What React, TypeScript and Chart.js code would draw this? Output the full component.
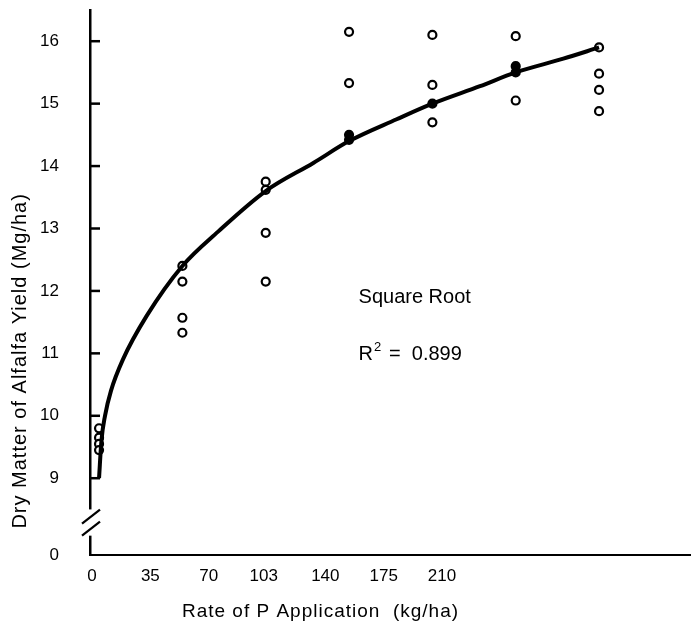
import React, { useEffect, useRef } from "react";
import { Chart, registerables } from "chart.js";

Chart.register(...registerables);

// ---- data ----
const rates = [0, 35, 70, 105, 140, 175, 210];
const yieldAt0 = [9.8, 9.65, 9.55, 9.45];
const yieldAt35 = [12.4, 12.15, 11.57, 11.33];
const yieldAt70 = [13.75, 13.62, 12.93, 12.15];
const yieldAt105 = [16.15, 15.33, 14.5, 14.42];
const yieldAt140 = [16.1, 15.3, 15.0, 14.7];
const yieldAt175 = [16.08, 15.6, 15.5, 15.05];
const yieldAt210 = [15.9, 15.48, 15.22, 14.88];
const yieldsByRate = [yieldAt0, yieldAt35, yieldAt70, yieldAt105, yieldAt140, yieldAt175, yieldAt210];

// fitted square-root curve
const curveX = [0, 1, 2.5, 5, 10, 20, 35, 50, 70, 90, 105, 125, 140, 160, 175, 195, 210];
const curveY = [9.0, 9.6, 10.0, 10.4, 10.9, 11.6, 12.4, 12.95, 13.6, 14.05, 14.4, 14.75, 15.0, 15.28, 15.5, 15.72, 15.9];

// axis tick labels
const xTickValues = [0, 35, 70, 103, 140, 175, 210];
const xTickLabels = ["0", "35", "70", "103", "140", "175", "210"];
const yTickValues = [9, 10, 11, 12, 13, 14, 15, 16];
const yBreakLabel = "0";

const xTitle = "Rate of P Application  (kg/ha)";
const yTitle = "Dry Matter of Alfalfa Yield (Mg/ha)";
const modelName = "Square Root";
const r2Value = "0.899";

const FONT = "'Liberation Sans', Arial, Helvetica, sans-serif";
const Y_MIN = 7.77;
const Y_MAX = 16.5;

function curveAt(x: number): number {
  for (let i = 1; i < curveX.length; i++) {
    if (x <= curveX[i]) {
      const t = (x - curveX[i - 1]) / (curveX[i] - curveX[i - 1]);
      return curveY[i - 1] + t * (curveY[i] - curveY[i - 1]);
    }
  }
  return curveY[curveY.length - 1];
}

const decorPlugin = {
  id: "decor",
  afterDraw(chart: any) {
    const ctx = chart.ctx as CanvasRenderingContext2D;
    const ys = chart.scales.y;
    const xs = chart.scales.x;
    const area = chart.chartArea;
    ctx.save();
    ctx.strokeStyle = "#000";
    ctx.fillStyle = "#000";
    // inward tick marks on the y axis
    ctx.lineWidth = 2.5;
    yTickValues.forEach((v) => {
      const py = ys.getPixelForValue(v);
      ctx.beginPath();
      ctx.moveTo(area.left, py);
      ctx.lineTo(area.left + 10, py);
      ctx.stroke();
    });
    // axis break
    const bTop = ys.getPixelForValue(8.5);
    const bBot = ys.getPixelForValue(8.08);
    ctx.fillStyle = "#fff";
    ctx.fillRect(area.left - 3, bTop, 6, bBot - bTop);
    ctx.fillStyle = "#000";
    ctx.lineWidth = 2.2;
    const bc = (bTop + bBot) / 2;
    [-6, 6].forEach((off) => {
      ctx.beginPath();
      ctx.moveTo(area.left - 8, bc + off + 7);
      ctx.lineTo(area.left + 10, bc + off - 7);
      ctx.stroke();
    });
    // titles
    (ctx as any).letterSpacing = "1px";
    ctx.font = `19px ${FONT}`;
    ctx.textAlign = "center";
    ctx.textBaseline = "middle";
    ctx.fillText(xTitle, xs.getPixelForValue(93), area.bottom + 57);
    ctx.save();
    ctx.font = `20px ${FONT}`;
    ctx.translate(20, ys.getPixelForValue(10.88));
    ctx.rotate(-Math.PI / 2);
    ctx.fillText(yTitle, 0, 0);
    ctx.restore();
    (ctx as any).letterSpacing = "0px";
    // annotations
    ctx.font = `20px ${FONT}`;
    ctx.textAlign = "left";
    const ax = xs.getPixelForValue(109);
    ctx.fillText(modelName, ax, ys.getPixelForValue(11.9));
    const ry = ys.getPixelForValue(10.98);
    ctx.fillText("R", ax, ry);
    const rw = ctx.measureText("R").width;
    ctx.font = `13px ${FONT}`;
    ctx.fillText("2", ax + rw + 1, ry - 7);
    ctx.font = `20px ${FONT}`;
    ctx.fillText("=  " + r2Value, ax + rw + 16, ry);
    ctx.restore();
  },
};

export default function App() {
  const ref = useRef<HTMLCanvasElement | null>(null);
  useEffect(() => {
    if (!ref.current) return;
    const points: { x: number; y: number }[] = [];
    rates.forEach((r, i) => yieldsByRate[i].forEach((v) => points.push({ x: r, y: v })));
    const curve = curveX.map((x, i) => ({ x, y: curveY[i] }));
    const chart = new Chart(ref.current, {
      type: "scatter",
      data: {
        datasets: [
          {
            label: "Square root fit",
            data: curve,
            showLine: true,
            borderColor: "#000",
            borderWidth: 4,
            pointRadius: 0,
            cubicInterpolationMode: "monotone",
            xAxisID: "x",
            yAxisID: "y",
          } as any,
          {
            label: "Observed",
            data: points,
            showLine: false,
            pointStyle: "circle",
            pointRadius: 4,
            pointBorderWidth: 2.2,
            pointBorderColor: "#000",
            pointBackgroundColor: (c: any) => {
              const p = c.raw;
              if (!p) return "#fff";
              const onLine = Math.abs(p.y - curveAt(p.x)) < 0.12 && p.x > 90 && p.x < 200;
              return onLine ? "#000" : "#fff";
            },
            xAxisID: "x",
            yAxisID: "y",
          } as any,
        ],
      },
      options: {
        responsive: false,
        animation: false,
        layout: { autoPadding: false, padding: { left: 0, right: 1, top: 10, bottom: 0 } },
        plugins: { legend: { display: false }, tooltip: { enabled: false } },
        scales: {
          x: {
            type: "linear",
            display: false,
            min: -3.8,
            max: 248.2,
          },
          xl: {
            type: "linear",
            position: "bottom",
            min: -1.2,
            max: 358.8,
            afterBuildTicks: (axis: any) => {
              axis.ticks = xTickValues.map((v) => ({ value: v }));
            },
            afterFit: (scale: any) => {
              scale.height = 84;
              scale.paddingLeft = 0;
              scale.paddingRight = 0;
            },
            grid: { display: false, drawTicks: false },
            border: { display: true, color: "#000", width: 2 },
            ticks: {
              autoSkip: false,
              maxRotation: 0,
              padding: 11,
              color: "#000",
              font: { family: FONT, size: 17 },
              callback: (_v: any, i: number) => xTickLabels[i],
            },
          },
          y: {
            type: "linear",
            position: "left",
            min: Y_MIN,
            max: Y_MAX,
            afterBuildTicks: (axis: any) => {
              axis.ticks = [{ value: Y_MIN }, ...yTickValues.map((v) => ({ value: v }))];
            },
            afterFit: (scale: any) => {
              scale.width = 90;
              scale.paddingTop = 0;
              scale.paddingBottom = 0;
            },
            grid: { display: false, drawTicks: false },
            border: { display: true, color: "#000", width: 2.5 },
            ticks: {
              autoSkip: false,
              padding: 31,
              color: "#000",
              font: { family: FONT, size: 17 },
              callback: (v: any) => (Math.abs(v - Y_MIN) < 1e-6 ? yBreakLabel : String(v)),
            },
          },
        },
      },
      plugins: [decorPlugin],
    } as any);
    return () => chart.destroy();
  }, []);
  return (
    <div style={{ position: "fixed", left: 0, top: 0, width: 691, height: 639, background: "#fff" }}>
      <canvas ref={ref} width={691} height={639} />
    </div>
  );
}
